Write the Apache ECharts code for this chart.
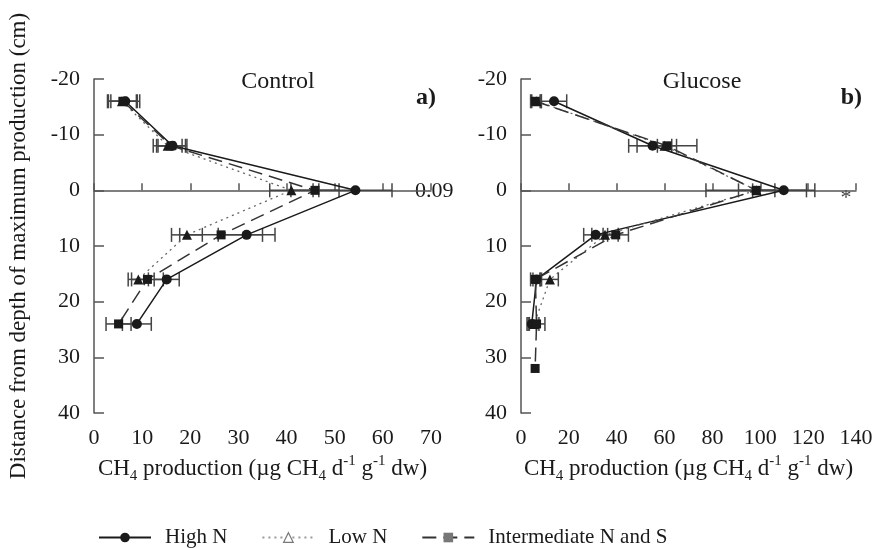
<!DOCTYPE html>
<html>
<head>
<meta charset="utf-8">
<script src="https://cdn.jsdelivr.net/npm/echarts@6/dist/echarts.min.js"></script>
<style>
  html, body { margin: 0; padding: 0; background: #fff; }
  #chart { width: 878px; height: 548px; }
</style>
</head>
<body>
<div id="chart"></div>
<script>
// Depth relative to the layer of maximum production (cm)
const depthControl = [-16, -8, 0, 8, 16, 24];
const depthControlLowN = [-16, -8, 0, 8, 16];
const depthGlucose = [-16, -8, 0, 8, 16, 24];
const depthGlucoseInter = [-16, -8, 0, 8, 16, 24, 32];

// CH4 production, Control
const controlHighN = [6.5, 16.3, 54.3, 31.7, 15.1, 8.9];
const controlHighNErr = [3, 3, 7.6, 5.9, 2.6, 3];
const controlLowN = [5.8, 15.3, 41, 19.3, 9.2];
const controlLowNErr = [3, 3, 4.5, 3.2, 2.1];
const controlInter = [6, 16, 45.9, 26.4, 11.1, 5.1];
const controlInterErr = [3, 3, 5, 8.6, 3.3, 2.6];

// CH4 production, Glucose
const glucoseHighN = [13.8, 55, 109.8, 31.2, 6.5, 4.5];
const glucoseHighNErr = [5.3, 10, 13, 5, 1.5, 2];
const glucoseLowN = [6.5, 60, 98.5, 35.1, 12.1, 5.5];
const glucoseLowNErr = [2, 3, 7.6, 5.5, 3.5, 2];
const glucoseInter = [6, 61, 98.3, 39.6, 6, 6.5, 5.9];
const glucoseInterErr = [2, 12.5, 21, 5.3, 2, 3.5, 0];

const depthTicks = { min: -20, max: 40, interval: 10 };
const controlTicks = { min: 0, max: 70, interval: 10 };
const glucoseTicks = { min: 0, max: 140, interval: 20 };

const seriesNames = ['High N', 'Low N', 'Intermediate N and S'];

const FONT = "'Liberation Serif', 'Times New Roman', serif";
const INK = '#1a1a1a';
const AXIS = '#555';

function pairs(xs, ys) { return xs.map((x, i) => [x, ys[i]]); }
function triples(xs, ys, es) {
  return xs.map((x, i) => [x, ys[i], es[i]]).filter(d => d[2] > 0);
}

// Horizontal error bar with end caps
function errorBar(params, api) {
  const x = api.value(0), y = api.value(1), e = api.value(2);
  const lo = api.coord([x - e, y]);
  const hi = api.coord([x + e, y]);
  const h = 7;
  const style = { stroke: '#444', lineWidth: 1.5 };
  return {
    type: 'group',
    children: [
      { type: 'line', shape: { x1: lo[0], y1: lo[1], x2: hi[0], y2: hi[1] }, style },
      { type: 'line', shape: { x1: lo[0], y1: lo[1] - h, x2: lo[0], y2: lo[1] + h }, style },
      { type: 'line', shape: { x1: hi[0], y1: hi[1] - h, x2: hi[0], y2: hi[1] + h }, style }
    ]
  };
}

const lineStyles = [
  { type: 'solid', width: 1.5, color: INK },
  { type: [2, 4], width: 1.3, color: '#666' },
  { type: [14, 7], width: 1.5, color: '#333' }
];
const symbols = [
  { symbol: 'circle', symbolSize: 10 },
  { symbol: 'triangle', symbolSize: 10 },
  { symbol: 'rect', symbolSize: 9 }
];

function lineSeries(k, data, idx) {
  return {
    name: seriesNames[k],
    type: 'line',
    xAxisIndex: idx, yAxisIndex: idx,
    data,
    symbol: symbols[k].symbol,
    symbolSize: symbols[k].symbolSize,
    itemStyle: { color: INK },
    lineStyle: lineStyles[k],
    z: 3,
    animation: false
  };
}
function barSeries(data, idx) {
  return {
    type: 'custom',
    xAxisIndex: idx, yAxisIndex: idx,
    renderItem: errorBar,
    encode: { x: 0, y: 1 },
    data,
    z: 2,
    silent: true,
    animation: false
  };
}

const nameRich = {
  n: { fontFamily: FONT, fontSize: 23, color: INK, lineHeight: 30, verticalAlign: 'middle' },
  s: { fontFamily: FONT, fontSize: 15, color: INK, lineHeight: 15, verticalAlign: 'bottom' },
  p: { fontFamily: FONT, fontSize: 15, color: INK, lineHeight: 15, verticalAlign: 'top' }
};
const xName = '{n|CH}{s|4}{n| production (µg CH}{s|4}{n| d}{p|-1}{n| g}{p|-1}{n| dw)}';

function xAxis(idx, ticks) {
  return {
    type: 'value', gridIndex: idx,
    min: ticks.min, max: ticks.max, interval: ticks.interval,
    name: xName, nameLocation: 'middle', nameGap: 40,
    nameTextStyle: { rich: nameRich },
    axisLine: { lineStyle: { color: AXIS, width: 1.5 } },
    axisTick: { inside: true, length: 7, lineStyle: { color: AXIS, width: 1.5 } },
    axisLabel: { fontFamily: FONT, fontSize: 22, color: INK, margin: 14 },
    splitLine: { show: false }
  };
}
function yAxis(idx, withName) {
  const ax = {
    type: 'value', gridIndex: idx, inverse: true,
    min: depthTicks.min, max: depthTicks.max, interval: depthTicks.interval,
    axisLine: { show: true, lineStyle: { color: AXIS, width: 1.5 } },
    axisTick: { show: true, inside: true, length: 10, lineStyle: { color: AXIS, width: 1.5 } },
    axisLabel: { fontFamily: FONT, fontSize: 22, color: INK, margin: 14 },
    splitLine: { show: false }
  };
  if (withName) {
    ax.name = 'Distance from depth of maximum production (cm)';
    ax.nameLocation = 'middle';
    ax.nameGap = 64;
    ax.nameTextStyle = { fontFamily: FONT, fontSize: 23, color: INK };
  }
  return ax;
}

const chart = echarts.init(document.getElementById('chart'), null, { renderer: 'canvas' });
chart.setOption({
  backgroundColor: '#fff',
  animation: false,
  grid: [
    { left: 94, top: 79, width: 337, height: 334, outerBoundsMode: 'none' },
    { left: 521, top: 79, width: 335, height: 334, outerBoundsMode: 'none' }
  ],
  xAxis: [xAxis(0, controlTicks), xAxis(1, glucoseTicks)],
  yAxis: [yAxis(0, true), yAxis(1, false)],
  legend: {
    left: 93, top: 522,
    itemWidth: 52, itemHeight: 12, itemGap: 34,
    selectedMode: false,
    textStyle: { fontFamily: FONT, fontSize: 21, color: INK, padding: [0, 0, 0, 9] },
    data: [
      { name: 'High N' },
      { name: 'Low N', iconRotate: 180, itemStyle: { color: '#fff', borderColor: '#777', borderWidth: 1.2 }, lineStyle: { color: '#999' } },
      { name: 'Intermediate N and S', itemStyle: { color: '#777' } }
    ]
  },
  graphic: [
    { type: 'text', x: 278, y: 82, style: { text: 'Control', font: `24px ${FONT}`, fill: INK, textAlign: 'center', textVerticalAlign: 'middle' } },
    { type: 'text', x: 436, y: 98, style: { text: 'a)', font: `bold 24px ${FONT}`, fill: INK, textAlign: 'right', textVerticalAlign: 'middle' } },
    { type: 'text', x: 415, y: 191, style: { text: '0.09', font: `22px ${FONT}`, fill: INK, textAlign: 'left', textVerticalAlign: 'middle' } },
    { type: 'text', x: 702, y: 82, style: { text: 'Glucose', font: `24px ${FONT}`, fill: INK, textAlign: 'center', textVerticalAlign: 'middle' } },
    { type: 'text', x: 862, y: 98, style: { text: 'b)', font: `bold 24px ${FONT}`, fill: INK, textAlign: 'right', textVerticalAlign: 'middle' } },
    { type: 'text', x: 846, y: 198, style: { text: '*', font: `22px ${FONT}`, fill: '#444', textAlign: 'center', textVerticalAlign: 'middle' } }
  ],
  series: [
    barSeries(triples(controlHighN, depthControl, controlHighNErr), 0),
    barSeries(triples(controlLowN, depthControlLowN, controlLowNErr), 0),
    barSeries(triples(controlInter, depthControl, controlInterErr), 0),
    lineSeries(0, pairs(controlHighN, depthControl), 0),
    lineSeries(1, pairs(controlLowN, depthControlLowN), 0),
    lineSeries(2, pairs(controlInter, depthControl), 0),
    barSeries(triples(glucoseHighN, depthGlucose, glucoseHighNErr), 1),
    barSeries(triples(glucoseLowN, depthGlucose, glucoseLowNErr), 1),
    barSeries(triples(glucoseInter, depthGlucoseInter, glucoseInterErr), 1),
    lineSeries(0, pairs(glucoseHighN, depthGlucose), 1),
    lineSeries(1, pairs(glucoseLowN, depthGlucose), 1),
    lineSeries(2, pairs(glucoseInter, depthGlucoseInter), 1)
  ]
});
</script>
</body>
</html>
